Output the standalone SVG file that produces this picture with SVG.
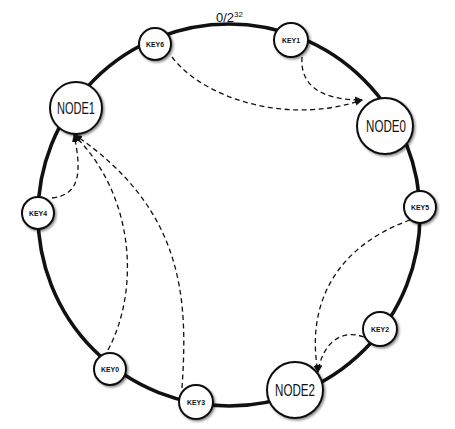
<svg xmlns="http://www.w3.org/2000/svg" width="455" height="429" viewBox="0 0 455 429">
<style>
.ring{fill:none;stroke:#111;stroke-width:3.6}
.nd circle{fill:#fff;stroke:#111;stroke-width:2;filter:url(#sh)}
.big{font-family:"Liberation Sans Narrow","Liberation Sans",Arial,sans-serif;font-size:17px;fill:#111;text-anchor:middle}
.key{font-family:"Liberation Sans",Arial,sans-serif;font-size:7px;font-weight:bold;fill:#111;text-anchor:middle}
.lbl{font-family:"Liberation Sans Narrow","Liberation Sans",Arial,sans-serif;font-size:13px;fill:#111}
.cn path{fill:none;stroke:#111;stroke-width:1.3;stroke-dasharray:5 3.5;marker-end:url(#ah)}
</style>
<defs>
<filter id="sh" x="-30%" y="-30%" width="160%" height="160%">
<feDropShadow dx="1.5" dy="1.5" stdDeviation="1" flood-color="#000" flood-opacity="0.45"/>
</filter>
<marker id="ah" markerWidth="8" markerHeight="8" refX="7" refY="4" orient="auto" markerUnits="userSpaceOnUse">
<path d="M0,0.5 L8,4 L0,7.5 Z" fill="#111"/>
</marker>
</defs>
<rect width="455" height="429" fill="#fff"/>
<circle class="ring" cx="229" cy="215" r="191"/>
<text class="lbl" x="216" y="22">0/2<tspan font-size="8" dy="-5">32</tspan></text>
<g id="KEY6" class="nd"><circle cx="155" cy="44" r="16"/><text class="key" x="155" y="46.5" textLength="18" lengthAdjust="spacingAndGlyphs">KEY6</text></g>
<g id="KEY1" class="nd"><circle cx="291" cy="40" r="17"/><text class="key" x="291" y="42.5" textLength="18" lengthAdjust="spacingAndGlyphs">KEY1</text></g>
<g id="NODE1" class="nd"><circle cx="76" cy="108" r="26"/><text class="big" x="76" y="114" textLength="38" lengthAdjust="spacingAndGlyphs">NODE1</text></g>
<g id="NODE0" class="nd"><circle cx="385" cy="126" r="28"/><text class="big" x="386" y="132" textLength="40" lengthAdjust="spacingAndGlyphs">NODE0</text></g>
<g id="KEY4" class="nd"><circle cx="38" cy="213" r="16"/><text class="key" x="38" y="215.5" textLength="18" lengthAdjust="spacingAndGlyphs">KEY4</text></g>
<g id="KEY5" class="nd"><circle cx="420" cy="207" r="16"/><text class="key" x="420" y="209.5" textLength="18" lengthAdjust="spacingAndGlyphs">KEY5</text></g>
<g id="KEY2" class="nd"><circle cx="380" cy="329" r="17"/><text class="key" x="380" y="331.5" textLength="18" lengthAdjust="spacingAndGlyphs">KEY2</text></g>
<g id="KEY0" class="nd"><circle cx="110" cy="369" r="16"/><text class="key" x="110" y="371.5" textLength="18" lengthAdjust="spacingAndGlyphs">KEY0</text></g>
<g id="KEY3" class="nd"><circle cx="196" cy="402" r="17"/><text class="key" x="196" y="404.5" textLength="18" lengthAdjust="spacingAndGlyphs">KEY3</text></g>
<g id="NODE2" class="nd"><circle cx="295" cy="390" r="28"/><text class="big" x="295" y="396" textLength="40" lengthAdjust="spacingAndGlyphs">NODE2</text></g>
<g id="connectors" class="cn">
<path d="M172,57 C205,100 290,125 362,100"/>
<path d="M302,57 C300,85 320,100 362,100"/>
<path d="M52,198 C80,195 82,172 74,135"/>
<path d="M108,350 C140,290 135,195 74,135"/>
<path d="M182,388 C188,300 185,210 75,135"/>
<path d="M410,220 C340,245 305,300 318,372"/>
<path d="M364,337 C340,328 322,345 318,372"/>
</g>
</svg>
